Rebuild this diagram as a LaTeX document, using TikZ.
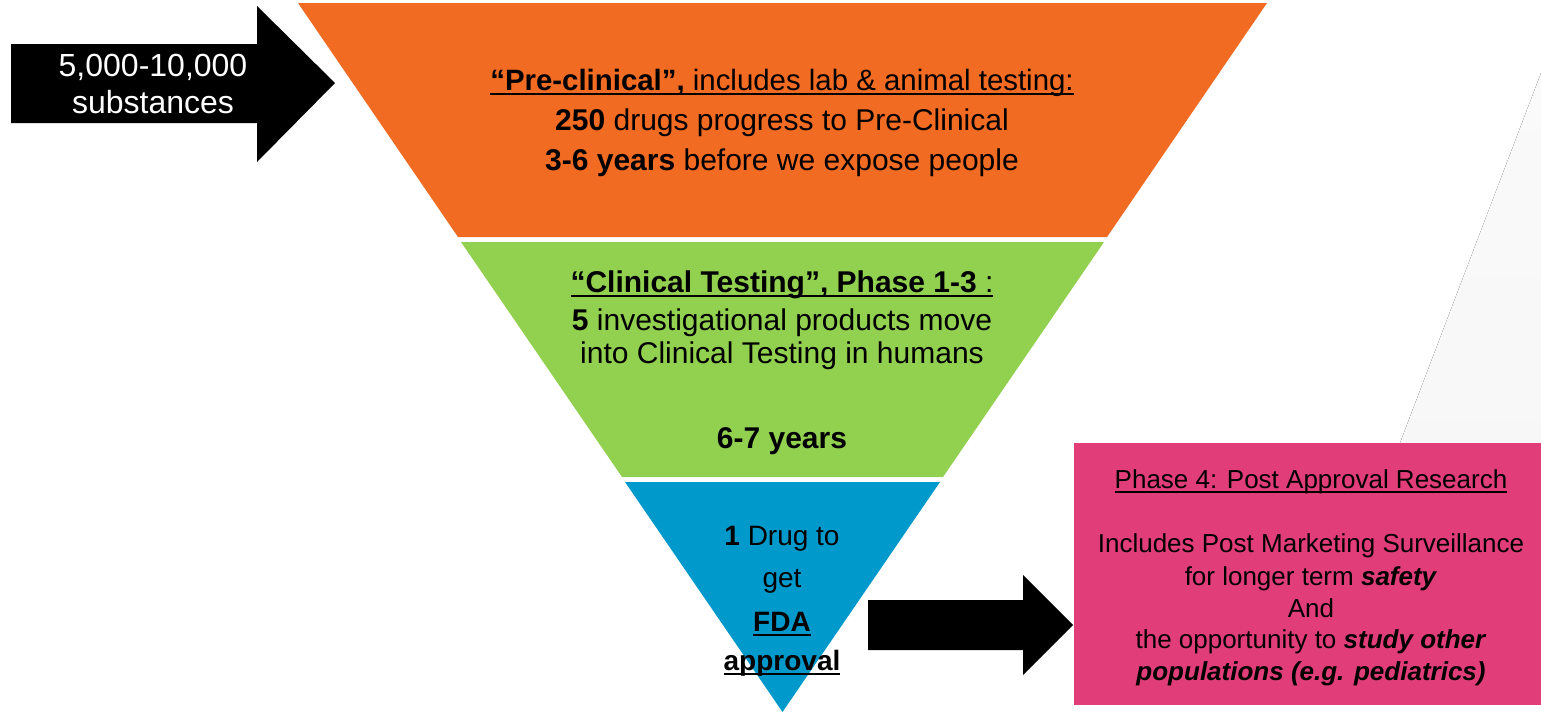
\documentclass[tikz,border=0pt]{standalone}
\usepackage{fontspec}
\setmainfont{Liberation Sans}
\usepackage{tikz}

\definecolor{preclin}{HTML}{F26B22}
\definecolor{clintest}{HTML}{92D050}
\definecolor{fdaok}{HTML}{0099CC}
\definecolor{postappr}{HTML}{E03D79}

% underline sitting just under the baseline
\newcommand\ulbox[1]{\setbox0\hbox{#1}\rlap{\rule[-5pt]{\wd0}{2pt}}\box0}

\begin{document}
\begin{tikzpicture}[x=1pt,y=-1pt,
  every node/.style={inner sep=0pt, outer sep=0pt, anchor=base},
  bigtxt/.style={font=\fontsize{30}{36}\selectfont},
  midtxt/.style={font=\fontsize{28}{34}\selectfont},
  boxtxt/.style={font=\fontsize{26}{32}\selectfont},
  arrtxt/.style={font=\fontsize{32}{38}\selectfont, text=white}]
\useasboundingbox (0,0) rectangle (1541,713);

% faint backdrop wedge
\fill[top color=black!2, bottom color=black!3] (1541,73) -- (1400,443) -- (1541,443) -- cycle;

% funnel
\fill[preclin] (298,3) -- (1267,3) -- (1107,237) -- (458,237) -- cycle;
\fill[clintest] (461,242) -- (1104,242) -- (943,477) -- (622,477) -- cycle;
\fill[fdaok] (625,482) -- (940,482) -- (782.5,712) -- cycle;

% block arrows
\fill[black] (11,44) -- (257,44) -- (257,6) -- (335,83) -- (257,162) -- (257,123) -- (11,123) -- cycle;
\fill[black] (868,600) -- (1023,600) -- (1023,575) -- (1073,625) -- (1023,675) -- (1023,650) -- (868,650) -- cycle;

% phase 4 box
\fill[postappr] (1074,443) rectangle (1541,705);

\node[arrtxt] (in1) at (153,76) {5,000-10,000};
\node[arrtxt] (in2) at (153,113) {substances};

\node[bigtxt, font=\fontsize{29.4}{36}\selectfont] (pre1) at (782,90) {\ulbox{\textbf{“Pre-clinical”,} includes lab \& animal testing:}};
\node[bigtxt] (pre2) at (782,130) {\textbf{250} drugs progress to Pre-Clinical};
\node[bigtxt] (pre3) at (782,170) {\textbf{3-6 years} before we expose people};

\node[bigtxt] (cli1) at (782,292) {\ulbox{\textbf{“Clinical Testing”, Phase 1-3} :}};
\node[bigtxt] (cli2) at (782,330) {\textbf{5} investigational products move};
\node[bigtxt] (cli3) at (782,363) {into Clinical Testing in humans};
\node[bigtxt] (cli4) at (782,448) {\textbf{6-7 years}};

\node[midtxt] (fda1) at (782,545) {\textbf{1} Drug to};
\node[midtxt] (fda2) at (782,587) {get};
\node[midtxt] (fda3) at (782,631) {\ulbox{\textbf{FDA}}};
\node[midtxt] (fda4) at (782,670) {\ulbox{\textbf{approval}}};

\node[boxtxt] (post1) at (1311,488) {\ulbox{Phase 4: Post Approval Research}};
\node[boxtxt] (post2) at (1311,552) {Includes Post Marketing Surveillance};
\node[boxtxt] (post3) at (1311,585) {for longer term \textbf{\textit{safety}}};
\node[boxtxt] (post4) at (1311,617) {And};
\node[boxtxt] (post5) at (1311,648) {the opportunity to \textbf{\textit{study other}}};
\node[boxtxt] (post6) at (1311,680) {\textbf{\textit{populations (e.g. pediatrics)}}};
\end{tikzpicture}
\end{document}
